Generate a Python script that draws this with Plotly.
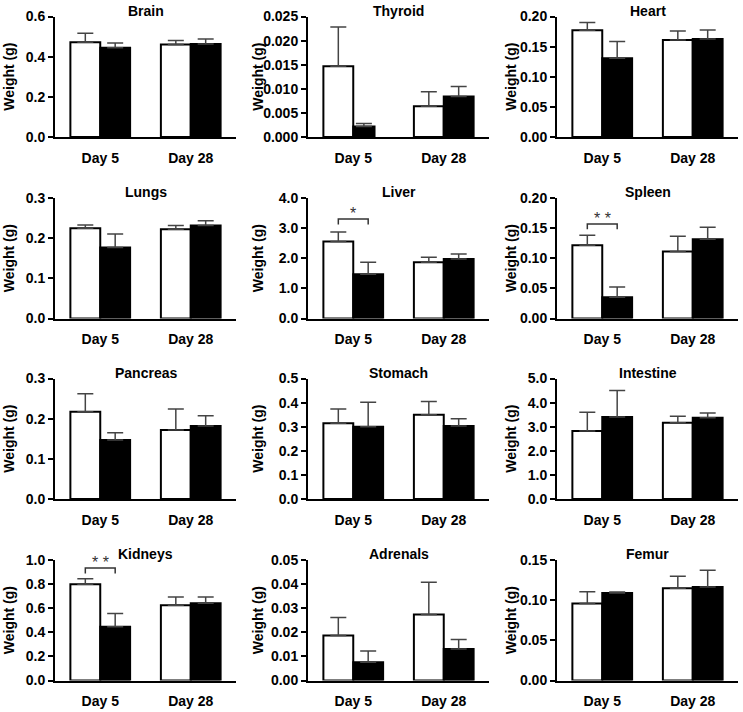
import plotly.graph_objects as go
from plotly.subplots import make_subplots

# ---- data --------------------------------------------------------------------

ORGANS = ["Brain", "Thyroid", "Heart",
          "Lungs", "Liver", "Spleen",
          "Pancreas", "Stomach", "Intestine",
          "Kidneys", "Adrenals", "Femur"]
DAYS = ["Day 5", "Day 28"]

# mean organ weight (g), [Day 5, Day 28]
OPEN_MEAN = [[0.472, 0.460], [0.0147, 0.0064], [0.177, 0.161],
             [0.225, 0.2225], [2.56, 1.865], [0.1215, 0.111],
             [0.217, 0.172], [0.314, 0.350], [2.82, 3.16],
             [0.798, 0.625], [0.0187, 0.0274], [0.096, 0.1147]]
FILLED_MEAN = [[0.445, 0.463], [0.0022, 0.0084], [0.1305, 0.1625],
               [0.1765, 0.2315], [1.47, 1.975], [0.0353, 0.1315],
               [0.1468, 0.182], [0.300, 0.3025], [3.40, 3.37],
               [0.447, 0.641], [0.0076, 0.0131], [0.1089, 0.1163]]
# upper error, [Day 5, Day 28]
OPEN_ERR = [[0.045, 0.021], [0.0081, 0.003], [0.013, 0.015],
            [0.008, 0.009], [0.31, 0.165], [0.0165, 0.0255],
            [0.045, 0.052], [0.059, 0.055], [0.78, 0.27],
            [0.047, 0.068], [0.0074, 0.0134], [0.0146, 0.015]]
FILLED_ERR = [[0.023, 0.025], [0.0006, 0.0021], [0.028, 0.015],
              [0.034, 0.012], [0.40, 0.165], [0.017, 0.020],
              [0.018, 0.025], [0.101, 0.030], [1.10, 0.20],
              [0.108, 0.052], [0.0046, 0.0039], [0.0012, 0.021]]

Y_MAX = [0.6, 0.025, 0.20, 0.3, 4.0, 0.20, 0.3, 0.5, 5.0, 1.0, 0.05, 0.15]
Y_STEP = [0.2, 0.005, 0.05, 0.1, 1.0, 0.05, 0.1, 0.1, 1.0, 0.2, 0.01, 0.05]
Y_FMT = [".1f", ".3f", ".2f", ".1f", ".1f", ".2f", ".1f", ".1f", ".1f", ".1f", ".2f", ".2f"]

# significance brackets between open and filled bars at Day 5
SIG_ORGAN = ["Liver", "Spleen", "Kidneys"]
SIG_TEXT = ["*", "* *", "* *"]
SIG_LEVEL = [3.3, 0.157, 0.934]

# ---- layout ------------------------------------------------------------------

W, H = 743, 712
COL_LEFT = [55, 308, 557]
COL_WIDTH = 181
YTITLE_X = [9, 258, 511]
ROW_TOP = [16.5, 198, 378.5, 560]
ROW_HEIGHT = 120.5

FONT = "Liberation Sans, Arial, sans-serif"
BOLD14 = dict(family=FONT, size=14, color="black", weight="bold")
BAR_W = 0.33
HALF_BAR = BAR_W / 2
# the filled Day 5 thyroid bar is drawn narrower in the source figure
NARROW = {"Thyroid": [0.235, BAR_W]}

fig = make_subplots(rows=4, cols=3)

for i, organ in enumerate(ORGANS):
    r, c = i // 3 + 1, i % 3 + 1
    fig.add_trace(go.Bar(
        x=[0, 1], y=OPEN_MEAN[i], width=BAR_W, offset=-BAR_W,
        marker=dict(color="white", line=dict(color="black", width=2)),
        error_y=dict(type="data", symmetric=False, array=OPEN_ERR[i], arrayminus=[0, 0],
                     color="#444444", thickness=1.5, width=8),
        showlegend=False,
    ), row=r, col=c)
    fig.add_trace(go.Bar(
        x=[0, 1], y=FILLED_MEAN[i], width=NARROW.get(organ, BAR_W), offset=0,
        marker=dict(color="black", line=dict(color="black", width=2)),
        error_y=dict(type="data", symmetric=False, array=FILLED_ERR[i], arrayminus=[0, 0],
                     color="#444444", thickness=1.5, width=8),
        showlegend=False,
    ), row=r, col=c)

    x0 = COL_LEFT[c - 1] / W
    x1 = (COL_LEFT[c - 1] + COL_WIDTH) / W
    y1 = 1 - ROW_TOP[r - 1] / H
    y0 = 1 - (ROW_TOP[r - 1] + ROW_HEIGHT) / H

    n_ticks = round(Y_MAX[i] / Y_STEP[i]) + 1
    fig.update_xaxes(
        domain=[x0, x1], range=[-0.5, 1.5], automargin=False,
        tickvals=[0, 1], ticktext=DAYS, ticks="", ticklabelstandoff=7,
        showline=True, linecolor="black", linewidth=2, showgrid=False, zeroline=False,
        tickfont=BOLD14,
        row=r, col=c,
    )
    fig.update_yaxes(
        domain=[y0, y1], range=[0, Y_MAX[i]], automargin=False,
        tickvals=[k * Y_STEP[i] for k in range(n_ticks)], tickformat=Y_FMT[i],
        ticks="outside", ticklen=5, tickwidth=2, tickcolor="black",
        showline=True, linecolor="black", linewidth=2, showgrid=False, zeroline=False,
        tickfont=BOLD14,
        row=r, col=c,
    )

    # panel title
    fig.add_annotation(
        text=organ, xref="paper", yref="paper",
        x=(x0 + x1) / 2, y=1 - (ROW_TOP[r - 1] - 6) / H,
        xanchor="center", yanchor="middle", showarrow=False, font=BOLD14,
    )
    # y axis title
    fig.add_annotation(
        text="Weight (g)", xref="paper", yref="paper", textangle=-90,
        x=YTITLE_X[c - 1] / W, y=(y0 + y1) / 2,
        xanchor="center", yanchor="middle", showarrow=False, font=BOLD14,
    )

# significance brackets
for organ, text, level in zip(SIG_ORGAN, SIG_TEXT, SIG_LEVEL):
    i = ORGANS.index(organ)
    r, c = i // 3 + 1, i % 3 + 1
    drop = 0.045 * Y_MAX[i]
    fig.add_trace(go.Scatter(
        x=[-HALF_BAR, -HALF_BAR, HALF_BAR, HALF_BAR],
        y=[level - drop, level, level, level - drop],
        mode="lines", line=dict(color="#333333", width=1.5),
        showlegend=False, hoverinfo="skip",
    ), row=r, col=c)
    ax = "" if i == 0 else str(i + 1)
    fig.add_annotation(
        text=text, x=0, y=level, xref="x" + ax, yref="y" + ax,
        xanchor="center", yanchor="bottom", yshift=-5, showarrow=False,
        font=dict(family=FONT, size=16, color="#333333"),
    )

fig.update_layout(
    template="none",
    width=W, height=H,
    margin=dict(l=0, r=0, t=0, b=0),
    barmode="overlay",
    paper_bgcolor="white", plot_bgcolor="white",
    font=dict(family=FONT, color="black"),
)

# the page's default body margin would push the figure off the window
fig.write_html("out.html", config={"displayModeBar": False},
               post_script="document.body.style.margin = '0px';")
